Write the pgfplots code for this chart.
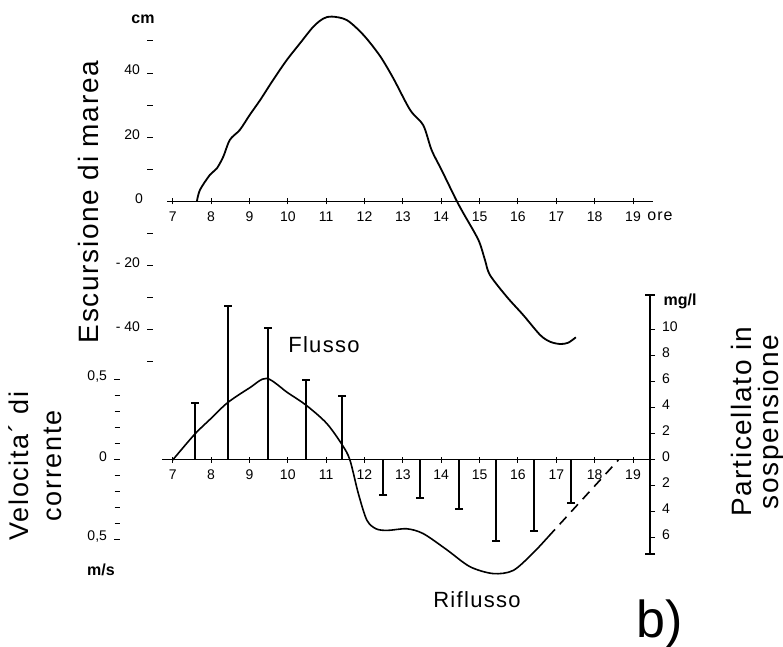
\documentclass[border=0pt]{standalone}
\usepackage{fontspec}
\setmainfont{Liberation Sans}
\newfontfamily\lab[LetterSpace=6]{Liberation Sans}
\usepackage{pgfplots}
\pgfplotsset{compat=1.18}
\usetikzlibrary{arrows.meta}

% 1 px of the scan = 0.5pt; all three axes share the hour scale
\pgfplotsset{
  base/.style={
    scale only axis, clip=false, anchor=south west,
    tick label style={font=\fontsize{7}{8}\selectfont},
    /pgf/number format/assume math mode=true,
    tick align=center, major tick length=3pt, minor tick length=2.5pt,
    every tick/.style={black, line width=0.5pt},
  },
}

\begin{document}
\begin{tikzpicture}
\useasboundingbox (0,0) rectangle (391.5pt,323.5pt);

% tide excursion (cm)
\begin{axis}[base, at={(75pt,142.5pt)}, width=251.5pt, height=160.5pt,
  xmin=6.408, xmax=19.521, ymin=-50, ymax=50,
  axis x line=middle, axis y line=left,
  x axis line style={-, shorten <=8.5pt, line width=0.5pt},
  y axis line style={draw=none},
  xtick={7,8,9,10,11,12,13,14,15,16,17,18,19},
  ytick={-50,-40,-30,-20,-10,10,20,30,40,50},
  yticklabels={,- 40,,- 20,,,20,,40,},
  extra y ticks={0}, extra y tick style={major tick length=0pt},
  yticklabel style={yshift=1.5pt},
]
\addplot[smooth, line width=0.9pt] coordinates {
  (7.63,0) (7.71,3.6) (7.97,8.3) (8.15,10.3) (8.32,14) (8.49,19.2)
  (8.75,22.3) (9.01,27) (9.28,31.6) (9.62,37.9) (9.97,44) (10.32,49.3)
  (10.67,54.5) (10.93,57) (11.15,57.6) (11.54,56.5) (11.97,51.9)
  (12.40,45.4) (12.75,38.4) (13.19,28.5) (13.53,23.8) (13.75,16)
  (14.01,9.8) (14.39,0.5) (14.58,-3.7) (14.97,-12) (15.14,-18.2)
  (15.27,-22.9) (15.71,-29.7) (16.14,-35.4) (16.58,-41.6) (16.84,-43.7)
  (17.10,-44.4) (17.31,-44) (17.51,-42.3)
};
\end{axis}

% current velocity (m/s)
\begin{axis}[base, at={(58.5pt,53.5pt)}, width=266.5pt, height=80pt,
  xmin=5.548, xmax=19.443, ymin=-0.5, ymax=0.5,
  axis x line=middle, axis y line=left,
  x axis line style={-, shorten <=22.5pt, line width=0.5pt},
  y axis line style={draw=none},
  xtick={7,8,9,10,11,12,13,14,15,16,17,18,19},
  ytick={-0.5,0,0.5}, yticklabels={{0,5},0,{0,5}},
  minor ytick={-0.4,-0.3,-0.2,-0.1,0.1,0.2,0.3,0.4},
  yticklabel style={yshift=1.5pt},
]
\addplot[smooth, line width=0.8pt] coordinates {
  (7.0,0) (7.57,0.16) (8.0,0.26) (8.43,0.358) (9.0,0.45) (9.45,0.51)
  (10.0,0.42) (10.47,0.344) (11.01,0.23) (11.42,0.094) (11.62,0.0)
  (11.84,-0.21) (12.06,-0.375) (12.3,-0.43) (12.6,-0.44) (13.1,-0.43)
  (13.53,-0.46) (14.14,-0.56) (14.75,-0.667) (15.36,-0.71) (15.88,-0.69)
  (16.40,-0.58) (16.79,-0.48)
};
\addplot[line width=0.8pt, dash pattern=on 5pt off 3.5pt] coordinates {
  (16.79,-0.48) (18.62,0)
};
\end{axis}

% suspended particulate (mg/l)
\begin{axis}[base, at={(58.5pt,46pt)}, width=266.5pt, height=130.5pt,
  xmin=5.548, xmax=19.443, ymin=-7.308, ymax=12.769,
  axis x line=none, axis y line=right,
  y axis line style={{Bar[width=5pt]}-{Bar[width=5pt]}, line width=1pt},
  tick align=outside, major tick length=2.5pt,
  ytick={-6,-4,-2,0,2,4,6,8,10}, yticklabels={6,4,2,0,2,4,6,8,10},
  yticklabel style={yshift=1.5pt},
]
\addplot[ycomb, mark=-, mark size=2pt, line width=1pt] coordinates {
  (7.57,4.38) (8.43,11.85) (9.48,10.15) (10.47,6.15) (11.42,4.92)
  (12.49,-2.69) (13.45,-2.95) (14.47,-3.77) (15.43,-6.23) (16.42,-5.46)
  (17.39,-3.33)
};
\end{axis}

\node[rotate=90, font=\lab\fontsize{14}{16}\selectfont] at (44pt,222.5pt) {Escursione di marea};
\node[rotate=90, align=center, font=\lab\fontsize{13.5}{16.5}\selectfont] at (17.5pt,90.5pt) {Velocita´ di\\corrente};
\node[rotate=90, align=center, font=\lab\fontsize{14}{13.5}\selectfont] at (379pt,112.5pt) {Particellato in\\sospensione};
\node[font=\lab\fontsize{11}{13}\selectfont] at (162pt,151pt) {Flusso};
\node[font=\lab\fontsize{11}{13}\selectfont] at (238.5pt,23.5pt) {Riflusso};
\node[font=\fontsize{26}{28}\selectfont] at (330pt,11.5pt) {b)};
\node[font=\bfseries\fontsize{8}{9}\selectfont] at (71.5pt,314pt) {cm};
\node[font=\bfseries\fontsize{8}{9}\selectfont] at (50.5pt,38.5pt) {m/s};
\node[font=\bfseries\fontsize{8}{9}\selectfont] at (340pt,173pt) {mg/l};
\node[font=\lab\fontsize{8}{9}\selectfont] at (330pt,215.5pt) {ore};
\end{tikzpicture}
\end{document}
